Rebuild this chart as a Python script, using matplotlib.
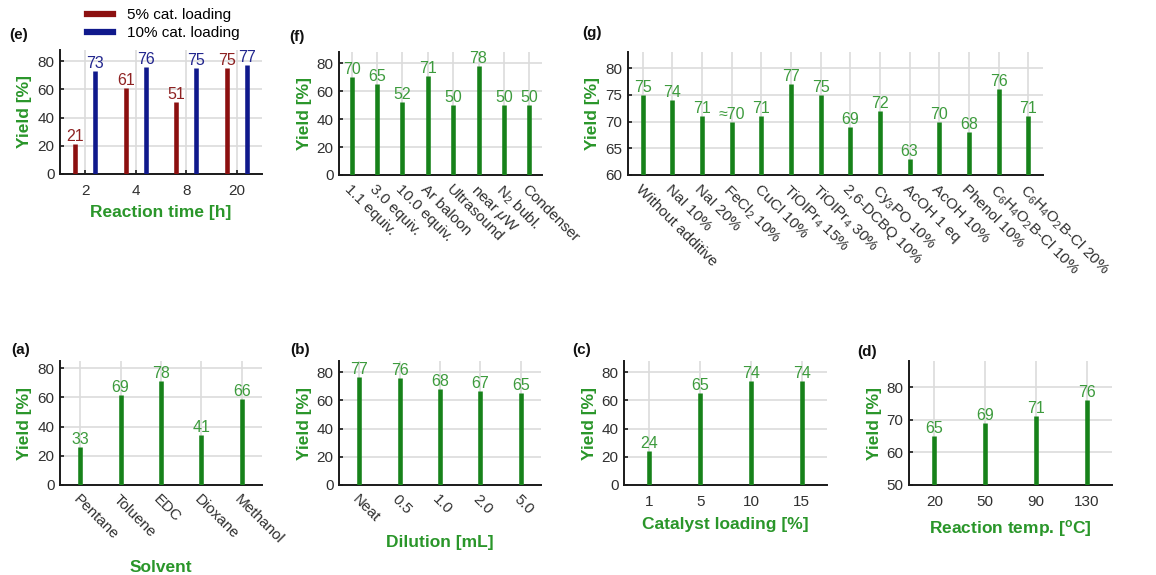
import matplotlib
matplotlib.use('Agg')
import matplotlib.pyplot as plt
from matplotlib.lines import Line2D
import numpy as np

plt.rcParams['font.family'] = ['Liberation Sans', 'DejaVu Sans']
plt.rcParams['mathtext.fontset'] = 'custom'
plt.rcParams['mathtext.rm'] = 'Liberation Sans'
plt.rcParams['mathtext.it'] = 'Liberation Sans:italic'
plt.rcParams['mathtext.bf'] = 'Liberation Sans:bold'

# ---------------- data ----------------
e_times = ['2', '4', '8', '20']
e_yield_5 = [21, 61, 51, 75]
e_yield_10 = [73, 76, 75, 77]
e_series = ['5% cat. loading', '10% cat. loading']

f_cats = ['1.1 equiv.', '3.0 equiv.', '10.0 equiv.', 'Ar baloon', 'Ultrasound',
          r'near $\mu$W', r'N$_2$ bubl.', 'Condenser']
f_yield = [70, 65, 52, 71, 50, 78, 50, 50]

g_cats = ['Without additive', 'NaI 10%', 'NaI 20%', r'FeCl$_2$ 10%', 'CuCl 10%',
          r'TiOIPr$_4$ 15%', r'TiOIPr$_4$ 30%', '2,6-DCBQ 10%', r'Cy$_3$PO 10%',
          'AcOH 1 eq', 'AcOH 10%', 'Phenol 10%', r'C$_6$H$_4$O$_2$B-Cl 10%',
          r'C$_6$H$_4$O$_2$B-Cl 20%']
g_yield = [75, 74, 71, 70, 71, 77, 75, 69, 72, 63, 70, 68, 76, 71]
g_labels = ['75', '74', '71', '≈70', '71', '77', '75', '69', '72', '63', '70', '68', '76', '71']

a_cats = ['Pentane', 'Toluene', 'EDC', 'Dioxane', 'Methanol']
a_heights = [26, 62, 71, 34, 59]
a_labels = ['33', '69', '78', '41', '66']

b_cats = ['Neat', '0.5', '1.0', '2.0', '5.0']
b_yield = [77, 76, 68, 67, 65]

c_cats = ['1', '5', '10', '15']
c_yield = [24, 65, 74, 74]

d_cats = ['20', '50', '90', '130']
d_yield = [65, 69, 71, 76]

# ---------------- style ----------------
BAR = '#17821a'
VAL = '#3d9b3d'
LBL = '#2a962a'
RED = '#8c1010'
BLUE = '#10198c'
RED_T = '#8e2222'
BLUE_T = '#22268e'
TICKC = '#303030'

TICK_FS = 11
VAL_FS = 11.5
LAB_FS = 12.5

W, H = 1156, 575
fig = plt.figure(figsize=(W / 100, H / 100), dpi=100)


def make_ax(l, t, r, b):
    ax = fig.add_axes([l / W, 1 - b / H, (r - l) / W, (b - t) / H])
    ax._px = (l, t, r, b)
    return ax


def style(ax, ylim, yticks, n, ticklabels, rotate=False):
    ax.set_xlim(0.5, n + 0.5)
    ax.set_ylim(*ylim)
    ax.set_yticks(yticks)
    ax.set_xticks(np.arange(1, n + 1))
    for s in ['top', 'right']:
        ax.spines[s].set_visible(False)
    for s in ['left', 'bottom']:
        ax.spines[s].set_linewidth(1.4)
        ax.spines[s].set_color('#1a1a1a')
    ax.grid(True, color='#dcdcdc', lw=1.2)
    ax.set_axisbelow(True)
    ax.tick_params(direction='in', length=3, width=1.2, labelsize=TICK_FS,
                   colors='#1a1a1a', labelcolor=TICKC)
    ax.tick_params(axis='y', pad=4)
    if rotate:
        ax.tick_params(axis='x', pad=5)
        ax.set_xticklabels(ticklabels, rotation=-45, ha='left', va='top',
                           rotation_mode='anchor')
    else:
        ax.tick_params(axis='x', pad=7)
        ax.set_xticklabels(ticklabels)
    l, t, r, b = ax._px
    ax.set_ylabel('Yield [%]', fontsize=LAB_FS, fontweight='bold', color=LBL)
    ax.yaxis.set_label_coords(-35 / (r - l), 0.5)
    ax.yaxis.label.set_va('center')


def xlabel(ax, text, ypx):
    l, t, r, b = ax._px
    ax.set_xlabel(text, fontsize=LAB_FS, fontweight='bold', color=LBL)
    ax.xaxis.set_label_coords(0.5, -(ypx - b) / (b - t))
    ax.xaxis.label.set_va('center')


def stems(ax, x, h, base, color, labels, tcolor):
    ax.vlines(x, base, h, color=color, lw=3.3, zorder=3)
    for xi, hi, lab in zip(x, h, labels):
        ax.annotate(lab, (xi, hi), xytext=(0, 0), textcoords='offset points',
                    ha='center', va='bottom', fontsize=VAL_FS, color=tcolor, zorder=4)


def panel(xpx, ypx, text):
    fig.text(xpx / W, 1 - ypx / H, text, fontsize=11, fontweight='bold',
             ha='left', va='center', color='#111111')


# ---------------- (e) ----------------
ax = make_ax(60, 50, 262, 174)
x = np.arange(1, len(e_times) + 1)
off = 0.2
stems(ax, x - off, e_yield_5, 0, RED, [str(v) for v in e_yield_5], RED_T)
stems(ax, x + off, e_yield_10, 0, BLUE, [str(v) for v in e_yield_10], BLUE_T)
style(ax, (0, 88), [0, 20, 40, 60, 80], len(e_times), e_times)
xlabel(ax, 'Reaction time [h]', 213)
panel(9, 35, '(e)')
hs = [Line2D([], [], color=RED, lw=4.5), Line2D([], [], color=BLUE, lw=4.5)]
fig.legend(hs, e_series, loc='upper left', bbox_to_anchor=(81 / W, 1 - 2 / H),
           frameon=False, fontsize=11, handlelength=1.7, handletextpad=0.9,
           labelspacing=0.25, borderaxespad=0, borderpad=0.4)

# ---------------- (f) ----------------
ax = make_ax(339, 52, 542, 175)
x = np.arange(1, len(f_cats) + 1)
stems(ax, x, f_yield, 0, BAR, [str(v) for v in f_yield], VAL)
style(ax, (0, 88), [0, 20, 40, 60, 80], len(f_cats), f_cats, rotate=True)
panel(289, 37, '(f)')

# ---------------- (g) ----------------
ax = make_ax(628, 52, 1043, 175)
x = np.arange(1, len(g_cats) + 1)
stems(ax, x, g_yield, 60, BAR, g_labels, VAL)
style(ax, (60, 83), [60, 65, 70, 75, 80], len(g_cats), g_cats, rotate=True)
panel(582, 33, '(g)')

# ---------------- (a) ----------------
ax = make_ax(60, 361, 262, 485)
x = np.arange(1, len(a_cats) + 1)
stems(ax, x, a_heights, 0, BAR, a_labels, VAL)
style(ax, (0, 85), [0, 20, 40, 60, 80], len(a_cats), a_cats, rotate=True)
xlabel(ax, 'Solvent', 567)
panel(11, 350, '(a)')

# ---------------- (b) ----------------
ax = make_ax(339, 361, 541, 485)
x = np.arange(1, len(b_cats) + 1)
stems(ax, x, b_yield, 0, BAR, [str(v) for v in b_yield], VAL)
style(ax, (0, 88), [0, 20, 40, 60, 80], len(b_cats), b_cats, rotate=True)
xlabel(ax, 'Dilution [mL]', 543)
panel(290, 350, '(b)')

# ---------------- (c) ----------------
ax = make_ax(624, 361, 827, 485)
x = np.arange(1, len(c_cats) + 1)
stems(ax, x, c_yield, 0, BAR, [str(v) for v in c_yield], VAL)
style(ax, (0, 88), [0, 20, 40, 60, 80], len(c_cats), c_cats)
xlabel(ax, 'Catalyst loading [%]', 525)
panel(572, 350, '(c)')

# ---------------- (d) ----------------
ax = make_ax(909, 361, 1112, 485)
x = np.arange(1, len(d_cats) + 1)
stems(ax, x, d_yield, 50, BAR, [str(v) for v in d_yield], VAL)
style(ax, (50, 88), [50, 60, 70, 80], len(d_cats), d_cats)
xlabel(ax, r'Reaction temp. [$^\mathbf{o}$C]', 528)
panel(857, 352, '(d)')

fig.savefig('out.png', dpi=100)
